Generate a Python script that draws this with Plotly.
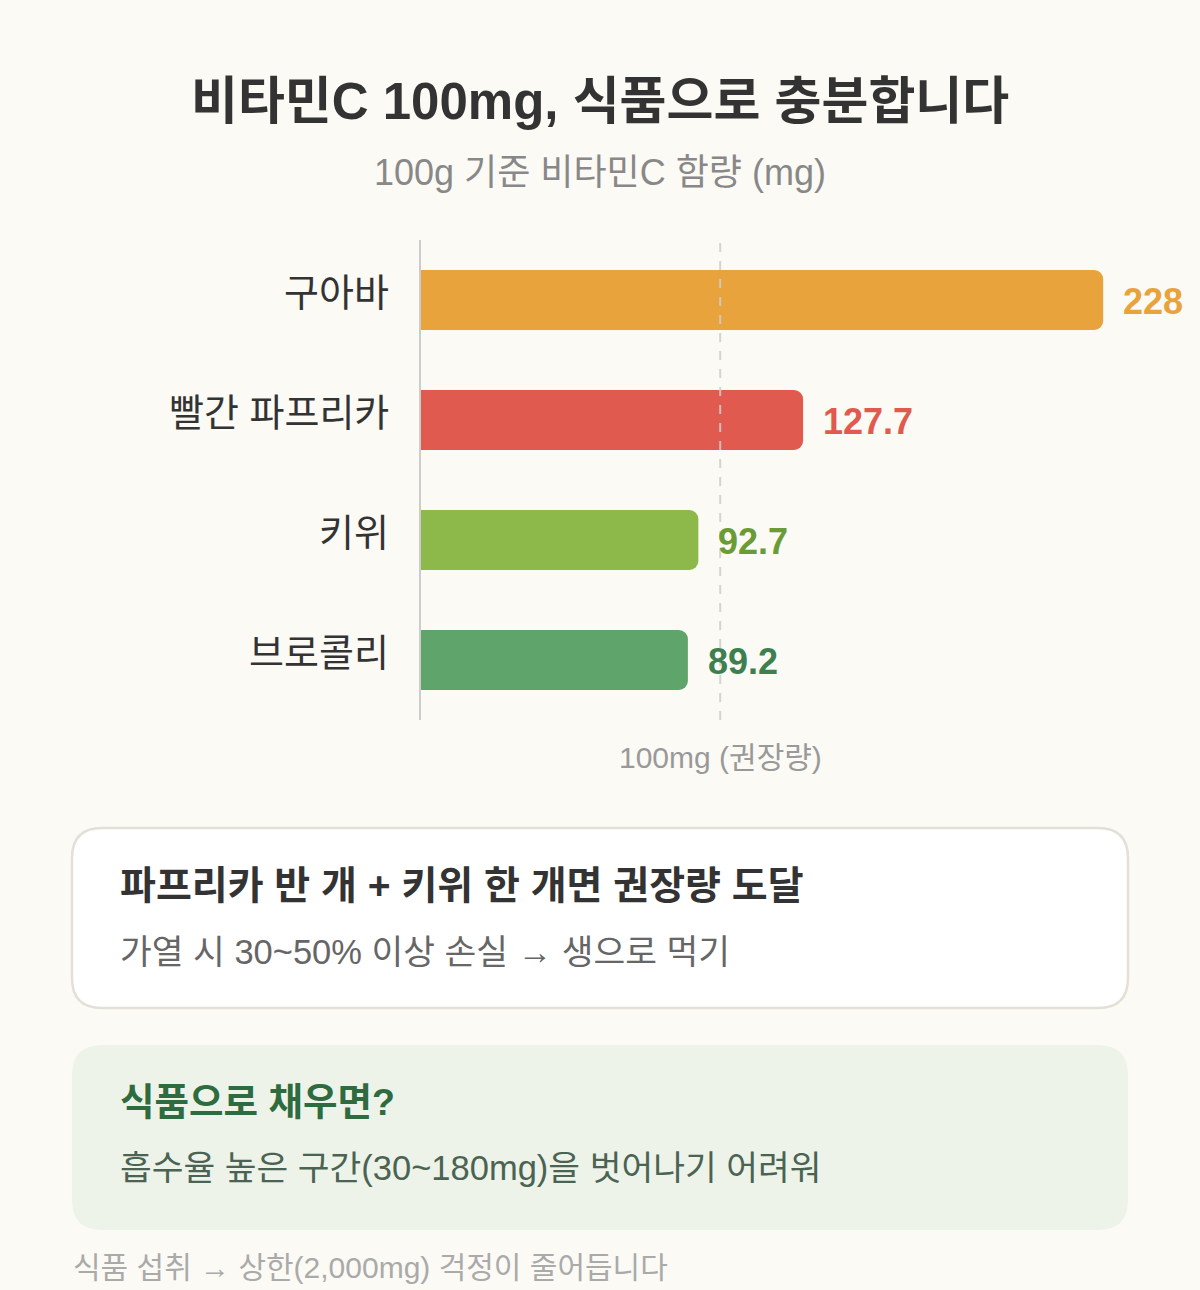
import plotly.graph_objects as go

# ---- data ----
foods = ["구아바", "빨간 파프리카", "키위", "브로콜리"]
vitamin_c = [228, 127.7, 92.7, 89.2]
value_labels = ["228", "127.7", "92.7", "89.2"]
bar_colors = ["#E8A33C", "#E05A4F", "#8DB84A", "#5FA46A"]
label_colors = ["#E8A33C", "#E05A4F", "#6B9B35", "#3E7F50"]
recommended = 100
recommended_label = "100mg (권장량)"

title_text = "비타민C 100mg, 식품으로 충분합니다"
subtitle_text = "100g 기준 비타민C 함량 (mg)"
box1_title = "파프리카 반 개 + 키위 한 개면 권장량 도달"
box1_text = "가열 시 30~50% 이상 손실 → 생으로 먹기"
box2_title = "식품으로 채우면?"
box2_text = "흡수율 높은 구간(30~180mg)을 벗어나기 어려워"
footer_text = "식품 섭취 → 상한(2,000mg) 걱정이 줄어듭니다"

# ---- layout geometry ----
W, H = 1200, 1290
L, R, T, B = 421, 31, 240, 570
PW, PH = W - L - R, H - T - B
BG = "#FCFAF5"
FONT = "Liberation Sans, Noto Sans CJK KR, sans-serif"


def px_x(px):
    return (px - L) / PW


def px_y(py):
    return (T + PH - py) / PH


def round_rect_path(x0, y0, x1, y1, r):
    def p(x, y):
        return f"{px_x(x):.5f},{px_y(y):.5f}"
    return (
        f"M {p(x0 + r, y0)} L {p(x1 - r, y0)} Q {p(x1, y0)} {p(x1, y0 + r)} "
        f"L {p(x1, y1 - r)} Q {p(x1, y1)} {p(x1 - r, y1)} "
        f"L {p(x0 + r, y1)} Q {p(x0, y1)} {p(x0, y1 - r)} "
        f"L {p(x0, y0 + r)} Q {p(x0, y0)} {p(x0 + r, y0)} Z"
    )


fig = go.Figure()
fig.add_trace(go.Bar(
    x=vitamin_c,
    y=foods,
    orientation="h",
    width=0.5,
    marker=dict(color=bar_colors, cornerradius=9, line=dict(width=0)),
    hoverinfo="skip",
))

annotations = []
for f, v, t, c in zip(foods, vitamin_c, value_labels, label_colors):
    annotations.append(dict(
        x=v, y=f, xref="x", yref="y", text=f"<b>{t}</b>", showarrow=False,
        xanchor="left", yanchor="middle", xshift=18, yshift=-1,
        font=dict(size=36, color=c, family=FONT),
    ))
    # category label
    annotations.append(dict(
        x=0, y=f, xref="x", yref="y", text=f, showarrow=False,
        xanchor="right", yanchor="middle", xshift=-30, yshift=7,
        font=dict(size=38, color="#333333", family=FONT),
    ))

annotations += [
    dict(x=px_x(600), y=px_y(101), xref="paper", yref="paper", text=f"<b>{title_text}</b>",
         showarrow=False, xanchor="center", yanchor="middle",
         font=dict(size=51, color="#333333", family=FONT)),
    dict(x=px_x(600), y=px_y(173), xref="paper", yref="paper", text=subtitle_text,
         showarrow=False, xanchor="center", yanchor="middle",
         font=dict(size=36, color="#888888", family=FONT)),
    dict(x=recommended, y=px_y(757), xref="x", yref="paper", text=recommended_label,
         showarrow=False, xanchor="center", yanchor="middle",
         font=dict(size=30, color="#999999", family=FONT)),
    dict(x=px_x(118), y=px_y(885), xref="paper", yref="paper", text=f"<b>{box1_title}</b>",
         showarrow=False, xanchor="left", yanchor="middle",
         font=dict(size=39, color="#333333", family=FONT)),
    dict(x=px_x(118), y=px_y(952), xref="paper", yref="paper", text=box1_text,
         showarrow=False, xanchor="left", yanchor="middle",
         font=dict(size=34.5, color="#666666", family=FONT)),
    dict(x=px_x(118), y=px_y(1102), xref="paper", yref="paper", text=f"<b>{box2_title}</b>",
         showarrow=False, xanchor="left", yanchor="middle",
         font=dict(size=37.5, color="#2E6B3F", family=FONT)),
    dict(x=px_x(118), y=px_y(1168), xref="paper", yref="paper", text=box2_text,
         showarrow=False, xanchor="left", yanchor="middle",
         font=dict(size=34.5, color="#4A6352", family=FONT)),
    dict(x=px_x(71), y=px_y(1267), xref="paper", yref="paper", text=footer_text,
         showarrow=False, xanchor="left", yanchor="middle",
         font=dict(size=30, color="#AAAAAA", family=FONT)),
]

shapes = [
    dict(type="line", xref="x", yref="paper", x0=recommended, x1=recommended, y0=0, y1=1,
         line=dict(color="rgba(205,205,205,0.85)", width=2, dash="dash"), layer="above"),
    dict(type="path", xref="paper", yref="paper",
         path=round_rect_path(72, 828, 1128, 1008, 30),
         fillcolor="#FFFFFF", line=dict(color="#E3E0D8", width=2.5), layer="below"),
    dict(type="path", xref="paper", yref="paper",
         path=round_rect_path(72, 1045, 1128, 1230, 30),
         fillcolor="#EEF3EA", line=dict(width=0), layer="below"),
]

fig.update_layout(
    width=W, height=H,
    margin=dict(l=L, r=R, t=T, b=B, pad=0),
    paper_bgcolor=BG, plot_bgcolor=BG,
    showlegend=False,
    bargap=0.5,
    font=dict(family=FONT),
    xaxis=dict(range=[0, 250], showgrid=False, zeroline=False, showticklabels=False,
               showline=False, ticks="", fixedrange=True),
    yaxis=dict(categoryorder="array", categoryarray=foods, autorange="reversed",
               showgrid=False, zeroline=False, showline=True, linecolor="#CCCCCC", linewidth=2,
               ticks="", showticklabels=False, fixedrange=True),
    annotations=annotations,
    shapes=shapes,
)

fig.write_html(
    "out.html",
    config={"displayModeBar": False},
    post_script="document.body.style.margin='0';document.body.style.background='#FCFAF5';",
)
